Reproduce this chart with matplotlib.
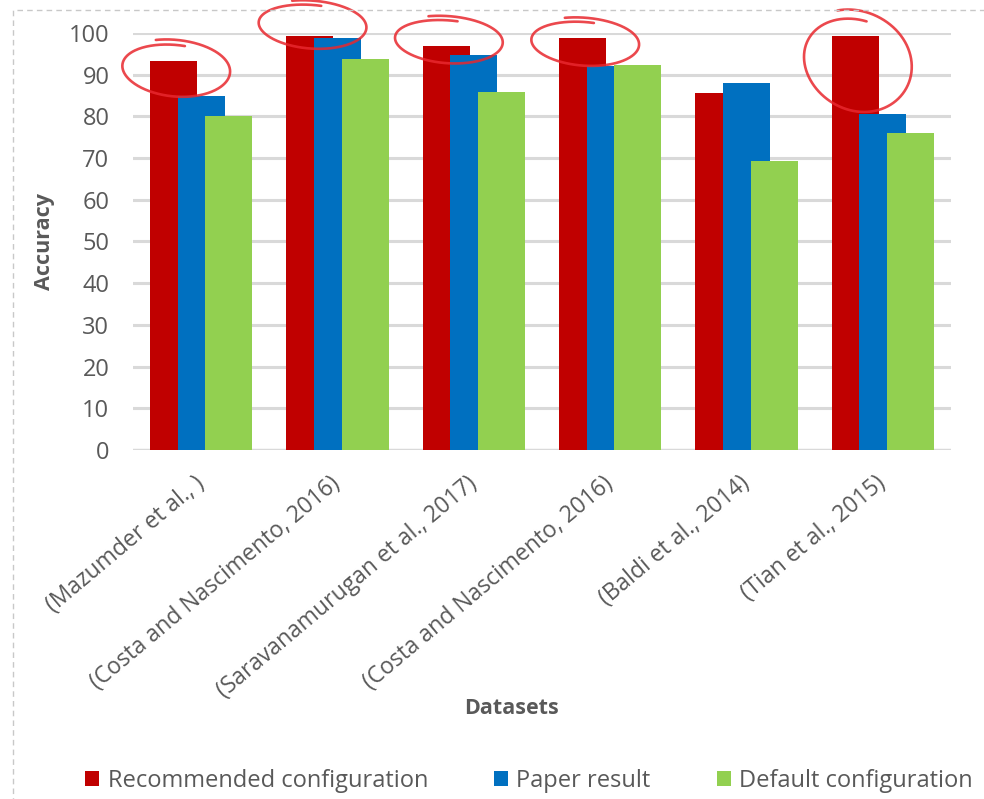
import numpy as np
import matplotlib
matplotlib.use("Agg")
import matplotlib.pyplot as plt
from matplotlib.patches import Rectangle

plt.rcParams['font.family'] = ['Open Sans', 'DejaVu Sans']

datasets = ["(Mazumder et al., )",
            "(Costa and Nascimento, 2016)",
            "(Saravanamurugan et al., 2017)",
            "(Costa and Nascimento, 2016)",
            "(Baldi et al., 2014)",
            "(Tian et al., 2015)"]
recommended = [93.4, 99.3, 96.8, 98.9, 85.5, 99.3]
paper = [84.8, 98.7, 94.7, 92.2, 87.9, 80.6]
default = [80.0, 93.8, 85.8, 92.3, 69.2, 75.9]
yticks = list(range(0, 101, 10))

# highlighted groups: (group index, ellipse centre y, half height)
highlights = [(0, 90.6, 6.5), (1, 101.2, 5.5), (2, 97.6, 5.4), (3, 97.1, 5.5), (5, 91.6, 11.6)]

RED, BLUE, GREEN = "#C00000", "#0070C0", "#92D050"
GRID = "#D9D9D9"
TXT = "#595959"

fig = plt.figure(figsize=(9.84, 7.99), dpi=100)
ax = fig.add_axes([133/984, 1-450/799, (951-133)/984, (450-33)/799])

x = np.arange(len(datasets))
w = 0.343
off = 0.203
ax.bar(x - off, recommended, w, color=RED, zorder=3, label="Recommended configuration")
ax.bar(x, paper, w, color=BLUE, zorder=4, label="Paper result")
ax.bar(x + off, default, w, color=GREEN, zorder=5, label="Default configuration")

ax.set_xlim(-0.5, len(datasets) - 0.5)
ax.set_ylim(0, 100)
ax.set_yticks(yticks)
ax.set_yticklabels([str(v) for v in yticks], fontsize=17, color=TXT)
ax.yaxis.grid(True, color=GRID, lw=2.2, zorder=0)
ax.set_axisbelow(True)
for s in ax.spines.values():
    s.set_visible(False)
ax.axhline(0, color=GRID, lw=2.4, zorder=2)
ax.tick_params(axis='y', length=0, pad=17)
ax.tick_params(axis='x', length=0, pad=22)
ax.set_xticks(x)
ax.set_xticklabels(datasets, rotation=40, ha='right', va='center',
                   rotation_mode='anchor', fontsize=16.5, color=TXT)

ax.set_ylabel("Accuracy", fontsize=15.5, fontweight='bold', color=TXT, labelpad=10)
fig.text(512/984, 1-708/799, "Datasets", fontsize=15.5, fontweight='bold',
         color=TXT, ha='center', va='center')

# hand-drawn red circles around the recommended bars
t = np.linspace(0.45 * np.pi, 2.62 * np.pi, 300)
for gi, cy, hh in highlights:
    cx = x[gi] - off + 0.02
    hw = 0.395
    xs = cx + hw * np.cos(t) * (1 + 0.03 * np.sin(t))
    ys = cy + hh * np.sin(t) - hh * 0.15 * np.cos(t) + hh * 0.03 * (t - t[0])
    ax.plot(xs, ys, color="#E8282E", lw=1.9, alpha=0.85, clip_on=False, zorder=10,
            solid_capstyle='round')

leg = fig.legend(loc='center', bbox_to_anchor=(529/984, 1-781/799), ncol=3,
                 frameon=False, fontsize=17, handlelength=0.6, handleheight=0.6,
                 handletextpad=0.35, columnspacing=2.8)
for txt in leg.get_texts():
    txt.set_color(TXT)

fig.patches.append(Rectangle((13/984, -0.05), 1.0, 1 - 10/799 + 0.05,
                             transform=fig.transFigure, fill=False,
                             ec="#C8C8C8", lw=1.0, ls=(0, (4, 3))))

fig.savefig("out.png", dpi=100)
